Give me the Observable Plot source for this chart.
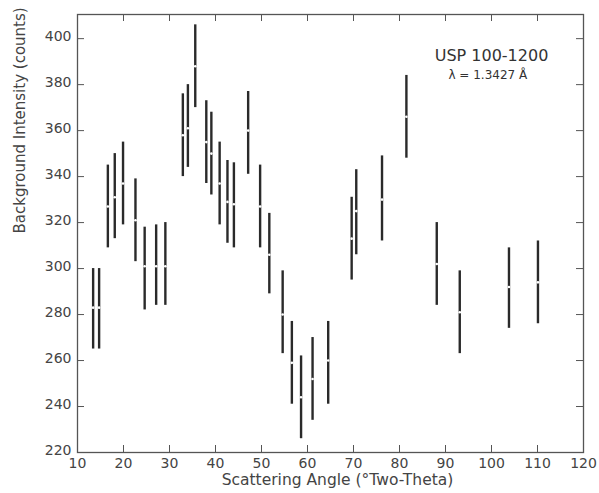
<!DOCTYPE html>
<html>
<head>
<meta charset="utf-8">
<script src="https://cdn.jsdelivr.net/npm/d3@7"></script>
<script src="https://cdn.jsdelivr.net/npm/@observablehq/plot@0.6"></script>
<style>
  html, body { margin: 0; padding: 0; background: #fff; }
  svg { display: block; }
</style>
</head>
<body>
<div id="chart"></div>
<script>
const angle = [13.4, 14.7, 16.6, 18.1, 19.9, 22.6, 24.6, 27.1, 29.1, 32.9, 34.0, 35.6, 38.0, 39.1, 40.9, 42.6, 44.0, 47.1, 49.7, 51.7, 54.6, 56.6, 58.6, 61.1, 64.5, 69.6, 70.6, 76.2, 81.5, 88.1, 93.1, 103.8, 110.1];
const mid   = [283, 283, 327, 331, 337, 321, 301, 301, 301, 358, 361, 388, 355, 350, 337, 329, 328, 360, 327, 306, 280, 259, 244, 252, 260, 313, 325, 330, 366, 302, 281, 292, 294];
const lo    = [265, 265, 309, 313, 319, 303, 282, 284, 284, 340, 344, 370, 337, 332, 319, 311, 309, 341, 309, 289, 263, 241, 226, 234, 241, 295, 306, 312, 348, 284, 263, 274, 276];
const hi    = [300, 300, 345, 350, 355, 339, 318, 319, 320, 376, 380, 406, 373, 368, 355, 347, 346, 377, 345, 324, 299, 277, 262, 270, 277, 331, 343, 349, 384, 320, 299, 309, 312];

const xTicks = [10, 20, 30, 40, 50, 60, 70, 80, 90, 100, 110, 120];
const yTicks = [220, 240, 260, 280, 300, 320, 340, 360, 380, 400];
const xTitle = "Scattering Angle (°Two-Theta)";
const yTitle = "Background Intensity (counts)";
const noteText = ["USP 100-1200", "λ = 1.3427 Å"];
const noteX = [100, 99.2];
const noteY = [392.5, 384];
const noteSize = [16, 12];

const data = angle.map((a, i) => ({angle: a, mid: mid[i], lo: lo[i], hi: hi[i]}));
const notes = noteText.map((t, i) => ({t, x: noteX[i], y: noteY[i], s: noteSize[i]}));

const W = 599, H = 493;
const mL = 77, mR = 16, mT = 14, mB = 41;
const pw = W - mL - mR, ph = H - mT - mB;
const tk = 7;
const ink = "#2a2a2a";
const grey = "#555";

const chart = Plot.plot({
  width: W,
  height: H,
  marginLeft: mL,
  marginRight: mR,
  marginTop: mT,
  marginBottom: mB,
  style: {fontFamily: "'DejaVu Sans', sans-serif", background: "#fff"},
  x: {domain: [10, 120]},
  y: {domain: [220, 410.5]},
  marks: [
    Plot.axisX({ticks: xTicks, tickSize: 0, tickPadding: 6, label: null, fontSize: 14, color: "#444"}),
    Plot.axisY({ticks: yTicks, tickSize: 0, tickPadding: 6, dy: -2, label: null, fontSize: 14, color: "#444"}),
    Plot.tickX(xTicks, {x: d => d, insetTop: ph - tk, stroke: grey}),
    Plot.tickX(xTicks, {x: d => d, insetBottom: ph - tk, stroke: grey}),
    Plot.tickY(yTicks, {y: d => d, insetRight: pw - tk, stroke: grey}),
    Plot.tickY(yTicks, {y: d => d, insetLeft: pw - tk, stroke: grey}),
    Plot.frame({stroke: grey, strokeWidth: 1.3}),
    Plot.ruleX(data, {x: "angle", y1: "lo", y2: "hi", stroke: ink, strokeWidth: 2.4}),
    Plot.dot(data, {x: "angle", y: "mid", r: 1.3, fill: "#fff", stroke: null}),
    Plot.text(notes, {x: "x", y: "y", text: "t", fontSize: "s", fill: "#333"}),
    Plot.text([xTitle], {frameAnchor: "bottom", dx: 7, dy: 32, fontSize: 15.5, fill: "#444"}),
    Plot.text([yTitle], {frameAnchor: "left", dx: -57, rotate: -90, fontSize: 15, fill: "#444"})
  ]
});
document.getElementById("chart").appendChild(chart);
</script>
</body>
</html>
